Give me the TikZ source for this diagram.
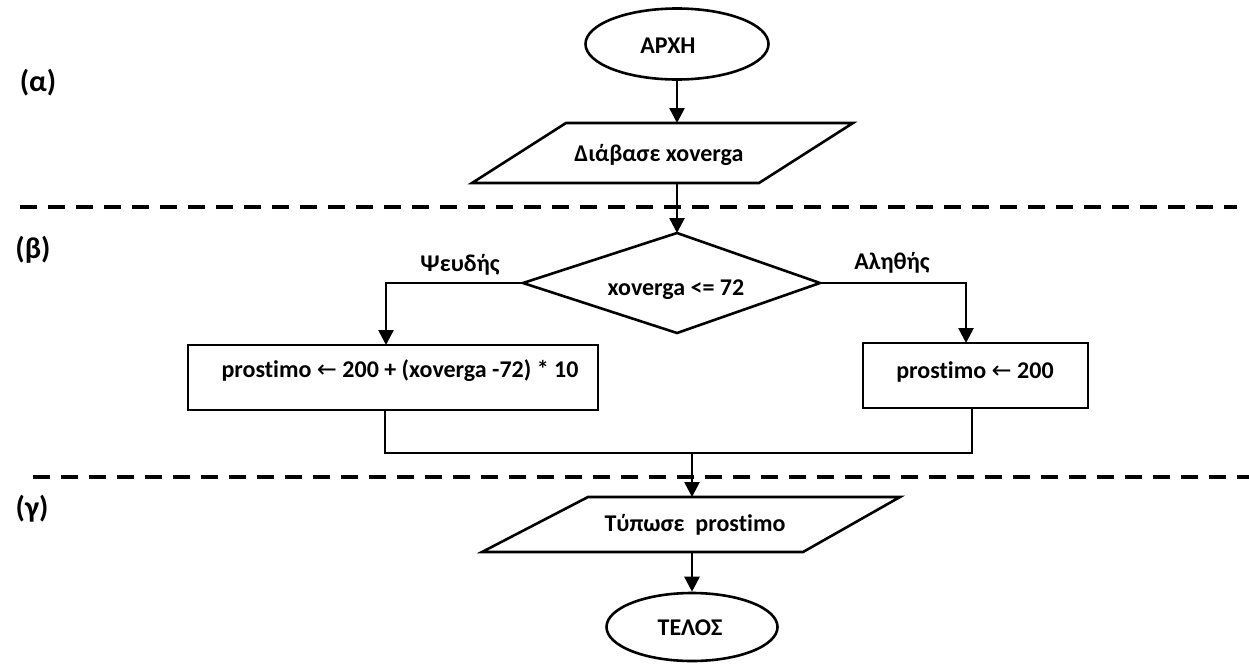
\documentclass[tikz,border=0pt]{standalone}
\usepackage{fontspec}
\setmainfont{Carlito}[BoldFont={Carlito Bold},Ligatures=NoCommon]
\newfontfamily\symfont{DejaVu Sans}
\usetikzlibrary{arrows.meta,shapes.geometric}
\newcommand{\larr}{{\symfont\mdseries ←}}
\begin{document}
\begin{tikzpicture}[x=1pt,y=-1pt,line width=2.6pt,
  font=\bfseries\fontsize{24}{28}\selectfont,
  arr/.style={-{Triangle[length=15pt,width=15pt]}},
  sepline/.style={line width=4pt,dash pattern=on 17pt off 11pt},
  term/.style={draw,ellipse,inner sep=0pt},
  procbox/.style={draw,rectangle,inner sep=0pt},
  lbl/.style={font=\bfseries\fontsize{30}{34}\selectfont}]
\useasboundingbox (0,0) rectangle (1249,664);
% separators
\draw[sepline] (20,207) -- (1237,207);
\draw[sepline] (33,477) -- (1249,477);
% section labels
\node[lbl] (la) at (38,83) {(α)};
\node[lbl] (lb) at (33,250) {(β)};
\node[lbl] (lg) at (32,509) {(γ)};
% start
\node[term,minimum width=183pt,minimum height=71pt] (start) at (677,44) {};
\node (startt) at (668,46) {ΑΡΧΗ};
% input parallelogram
\coordinate (p1a) at (566,123);
\coordinate (p1b) at (853,123);
\coordinate (p1c) at (759,183);
\coordinate (p1d) at (472,183);
\draw (p1a) -- (p1b) -- (p1c) -- (p1d) -- cycle;
\node (readt) at (659,155) {Διάβασε xoverga};
\coordinate (p1top) at (677,123);
\coordinate (p1bot) at (677,183);
\draw[arr] (start.south) -- (p1top);
% decision
\coordinate (dt) at (677,233);
\coordinate (dr) at (820,283);
\coordinate (db) at (677,333);
\coordinate (dl) at (523,283);
\draw (dt) -- (dr) -- (db) -- (dl) -- cycle;
\node (dtext) at (676,290) {xoverga <= 72};
\draw[arr] (p1bot) -- (dt);
% branches
\node (fl) at (460,265) {Ψευδής};
\node (tl) at (892,263) {Αληθής};
\node[procbox,minimum width=410pt,minimum height=65pt] (lbox) at (393,377.5) {};
\node (ltext) at (400,371) {prostimo \larr{} 200 + (xoverga -72) * 10};
\node[procbox,minimum width=225pt,minimum height=65pt] (rbox) at (975.5,375.5) {};
\node (rtext) at (975,372) {prostimo \larr{} 200};
\coordinate (lin) at (386,345);
\coordinate (rin) at (966,343);
\draw[arr] (dl) -| (lin);
\draw[arr] (dr) -| (rin);
% merge
\coordinate (lout) at (385,410);
\coordinate (rout) at (972,408);
\coordinate (ml) at (385,453);
\coordinate (mr) at (972,453);
\coordinate (mm) at (692,453);
\draw (lout) -- (ml) -- (mr) -- (rout);
% output parallelogram
\coordinate (p2a) at (588,497);
\coordinate (p2b) at (900,497);
\coordinate (p2c) at (803,552);
\coordinate (p2d) at (482,552);
\draw (p2a) -- (p2b) -- (p2c) -- (p2d) -- cycle;
\node (printt) at (695,525) {Τύπωσε\ \ prostimo};
\coordinate (p2top) at (692,497);
\coordinate (p2bot) at (692,552);
\draw[arr] (mm) -- (p2top);
% end
\node[term,minimum width=171pt,minimum height=68pt] (stop) at (692,627) {};
\node (stopt) at (690,628) {ΤΕΛΟΣ};
\draw[arr] (p2bot) -- (stop.north);
\end{tikzpicture}
\end{document}
